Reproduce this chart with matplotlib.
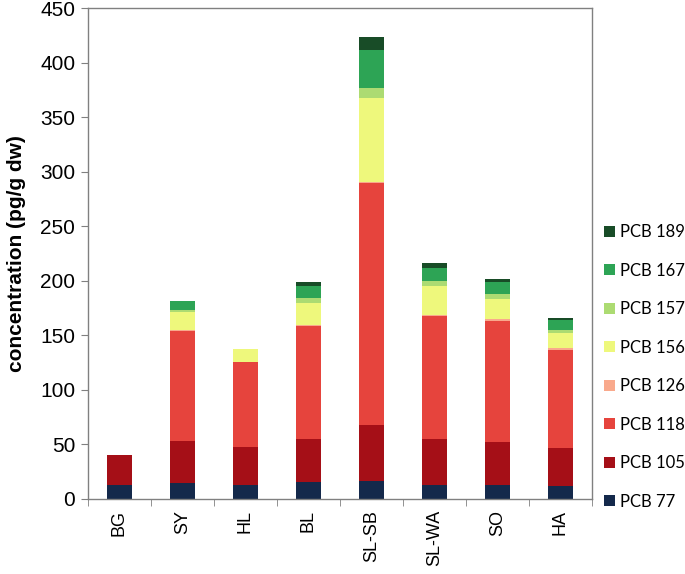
import matplotlib.pyplot as plt
import numpy as np

# Data (pg/g dw)
sites = ["BG", "SY", "HL", "BL", "SL-SB", "SL-WA", "SO", "HA"]
congeners = ["PCB 77", "PCB 105", "PCB 118", "PCB 126",
             "PCB 156", "PCB 157", "PCB 167", "PCB 189"]

pcb77 = [12.4, 14.3, 13.0, 15.2, 16.0, 12.4, 12.4, 11.5]
pcb105 = [27.6, 38.7, 34.4, 39.5, 51.6, 42.3, 39.6, 35.0]
pcb118 = [0.0, 101.0, 78.0, 104.0, 222.0, 113.2, 111.0, 90.0]
pcb126 = [0.0, 0.5, 0.0, 1.0, 1.0, 0.9, 1.5, 1.4]
pcb156 = [0.0, 16.6, 12.0, 20.0, 77.3, 26.4, 18.4, 14.5]
pcb157 = [0.0, 2.4, 0.0, 4.4, 8.6, 4.2, 4.9, 2.5]
pcb167 = [0.0, 7.5, 0.0, 11.0, 35.3, 12.4, 10.7, 8.9]
pcb189 = [0.0, 0.0, 0.0, 3.5, 11.7, 4.8, 3.4, 2.4]

series = [pcb77, pcb105, pcb118, pcb126, pcb156, pcb157, pcb167, pcb189]
colors = ["#14294b", "#a50f17", "#e6443d", "#f9a98c",
          "#eef87c", "#acdb72", "#2da455", "#184c27"]

fig = plt.figure(figsize=(6.85, 5.74), dpi=100)
ax = fig.add_axes([0.128, 0.131, 0.736, 0.855])

x = np.arange(len(sites))
bottom = np.zeros(len(sites))
for vals, col, name in zip(series, colors, congeners):
    ax.bar(x, vals, width=0.4, bottom=bottom, color=col, label=name,
           edgecolor="none")
    bottom += np.array(vals)

ax.set_xlim(-0.5, len(sites) - 0.5)
ax.set_ylim(0, 450)
ax.set_yticks(np.arange(0, 451, 50))
ax.set_xticks(x)
ax.set_xticklabels(sites, rotation=90, fontsize=13, family="Liberation Sans")
ax.set_xticks(np.arange(-0.5, len(sites), 1), minor=True)
ax.tick_params(axis="x", which="major", length=0, pad=8)
ax.tick_params(axis="x", which="minor", length=5, color="#808080")
ax.tick_params(axis="y", length=5, color="#808080", labelsize=15, pad=4)
for lbl in ax.get_yticklabels():
    lbl.set_family("Liberation Sans")

for sp in ax.spines.values():
    sp.set_color("#808080")
    sp.set_linewidth(1.0)

ax.set_ylabel("concentration (pg/g dw)", fontsize=15, fontweight="bold",
              family="Liberation Sans", labelpad=10)

handles, labels = ax.get_legend_handles_labels()
fig.legend(handles[::-1], labels[::-1], loc="lower left",
           bbox_to_anchor=(0.865, 0.092), frameon=False,
           prop={"family": "Lato", "size": 12},
           handlelength=0.65, handleheight=0.65, handletextpad=0.3,
           labelspacing=1.35, borderpad=0.2)

fig.savefig("out.png", dpi=100)
